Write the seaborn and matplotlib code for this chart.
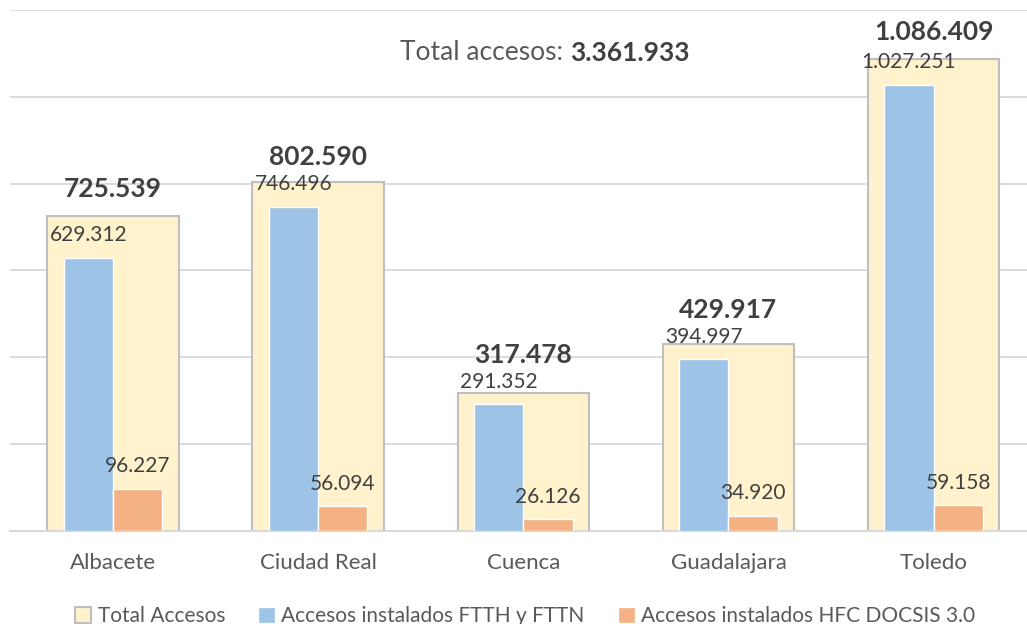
import matplotlib
matplotlib.use("Agg")
import matplotlib.pyplot as plt
from matplotlib.patches import Patch
import seaborn as sns
import pandas as pd

# datos
provincias = ["Albacete", "Ciudad Real", "Cuenca", "Guadalajara", "Toledo"]
total_accesos = [725539, 802590, 317478, 429917, 1086409]
ftth_fttn = [629312, 746496, 291352, 394997, 1027251]
hfc_docsis = [96227, 56094, 26126, 34920, 59158]
series = ["Accesos instalados FTTH y FTTN", "Accesos instalados HFC DOCSIS 3.0"]
total_general = 3361933

# separacion (pt) de la etiqueta del total sobre su barra
pad_total = [11, 9.5, 19, 16, 11]


def fmt(v):
    return f"{v:,}".replace(",", ".")


sns.set_style("white")
plt.rcParams['font.family'] = ['Lato', 'DejaVu Sans']

c_total = "#FFF2CC"
c_edge = "#BFBFBF"
c_ftth = "#9DC3E6"
c_hfc = "#F4B183"
c_text = "#404040"
c_grid = "#D9D9D9"

fig = plt.figure(figsize=(10.27, 6.24), dpi=100)
ax = fig.add_axes([0.010, 0.1495, 0.999, 0.8345])

sns.barplot(x=provincias, y=total_accesos, color=c_total, edgecolor=c_edge,
            linewidth=1.5, width=0.64, saturation=1, ax=ax, zorder=2)

df = pd.DataFrame({
    "Provincia": provincias * 2,
    "Serie": [series[0]] * len(provincias) + [series[1]] * len(provincias),
    "Accesos": ftth_fttn + hfc_docsis,
})
sns.barplot(data=df, x="Provincia", y="Accesos", hue="Serie",
            palette=[c_ftth, c_hfc], width=0.48, gap=0, saturation=1,
            dodge=True, legend=False, ax=ax, zorder=3)

# etiquetas
for bar, v, p in zip(ax.containers[0], total_accesos, pad_total):
    ax.annotate(fmt(v), xy=(bar.get_x() + bar.get_width() / 2, bar.get_height()),
                xytext=(0, p), textcoords="offset points", ha='center',
                va='bottom', fontsize=19, fontweight='bold', color=c_text)
ax.bar_label(ax.containers[1], labels=[fmt(v) for v in ftth_fttn],
             padding=9, fontsize=15, color=c_text)
ax.bar_label(ax.containers[2], labels=[fmt(v) for v in hfc_docsis],
             padding=9, fontsize=15, color=c_text)

ax.set_ylim(0, 1200000)
ax.set_xlim(-0.5, 4.5)
ax.set_yticks(range(0, 1200001, 200000))
ax.yaxis.grid(True, color=c_grid, linewidth=1.3)
ax.set_axisbelow(True)
ax.set_yticklabels([])
ax.tick_params(axis='y', length=0)
ax.tick_params(axis='x', length=0, pad=16, labelsize=16, labelcolor="#595959")
ax.set_xlabel("")
ax.set_ylabel("")
for s in ["top", "left", "right"]:
    ax.spines[s].set_visible(False)
ax.spines["bottom"].set_color(c_grid)
ax.spines["bottom"].set_linewidth(1.5)

# titulo
t = fig.text(400 / 1027, 1 - 65 / 624, "Total accesos: ", fontsize=19,
             color="#595959", ha='left', va='bottom')
ax.annotate(fmt(total_general), xy=(1, 0), xycoords=t, fontsize=19,
            fontweight='bold', color=c_text, ha='left', va='bottom',
            annotation_clip=False)

# leyenda
handles = [Patch(facecolor=c_total, edgecolor=c_edge, linewidth=1.5),
           Patch(facecolor=c_ftth), Patch(facecolor=c_hfc)]
fig.legend(handles, ["Total Accesos"] + series, loc="center",
           bbox_to_anchor=(0.511, 8 / 624), ncol=3, frameon=False,
           fontsize=15, handlelength=0.8, handleheight=0.8,
           handletextpad=0.3, columnspacing=1.6, labelcolor="#595959")

fig.savefig("out.png", dpi=100)
